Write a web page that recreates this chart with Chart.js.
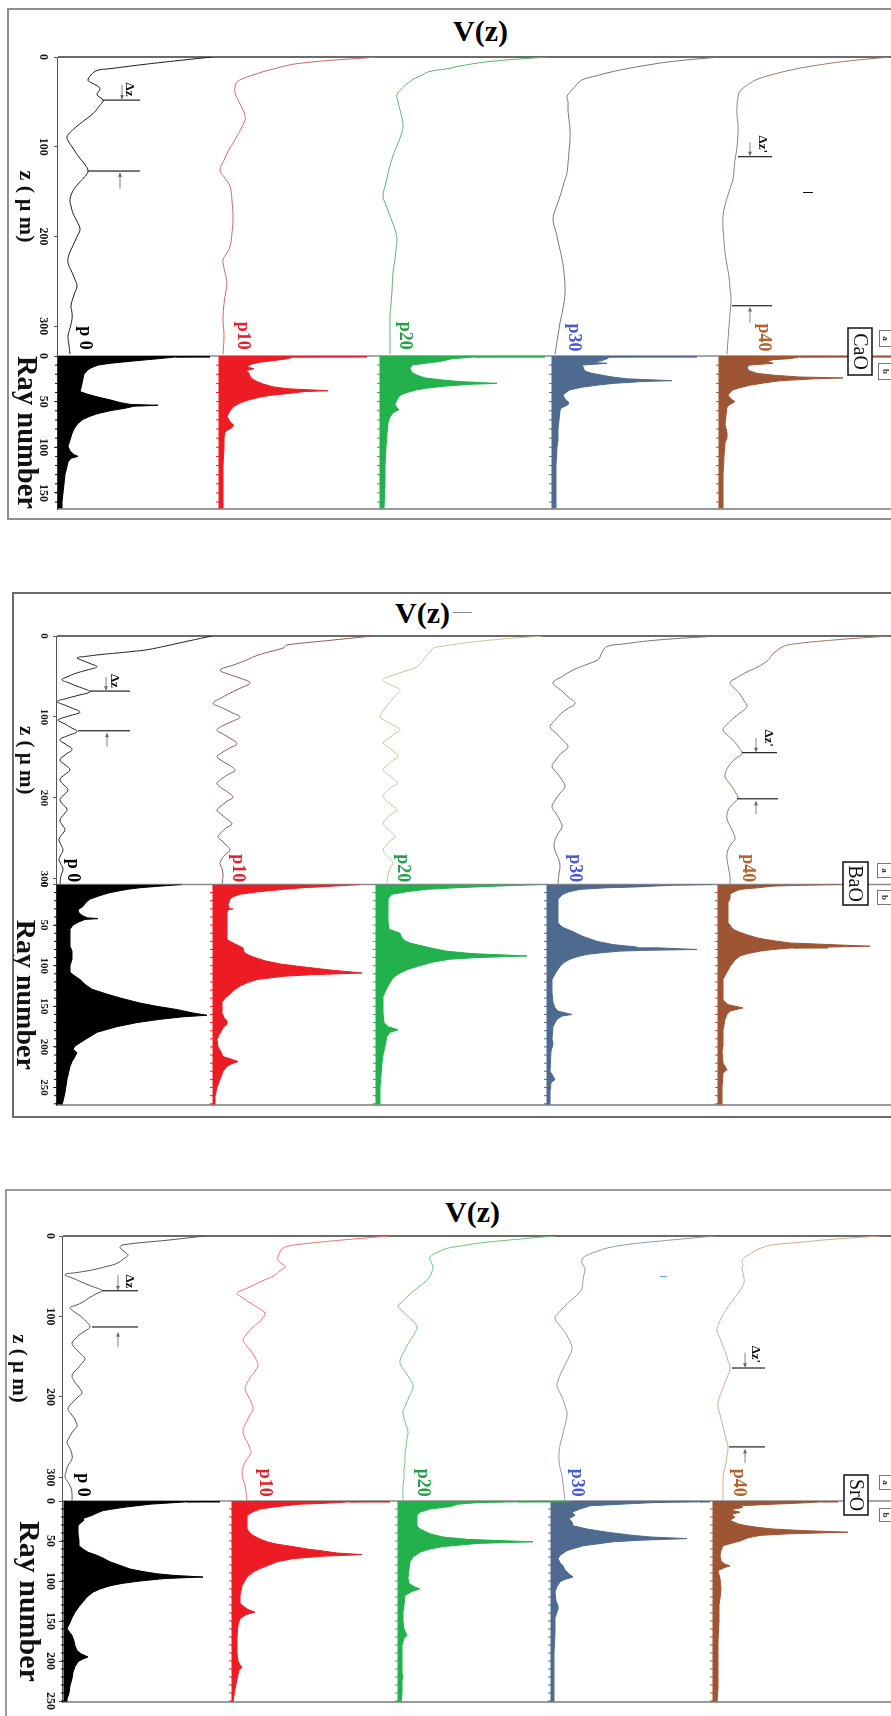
<!DOCTYPE html>
<html><head><meta charset="utf-8">
<script src="https://cdn.jsdelivr.net/npm/chart.js@4.4.1/dist/chart.umd.min.js"></script>
<style>
html,body{margin:0;padding:0;background:#fff;}
body{width:891px;height:1716px;position:relative;overflow:hidden;}
.frame{position:absolute;box-sizing:border-box;}
.vtitle{position:absolute;font:bold 30px "Liberation Serif",serif;color:#000;line-height:34px;white-space:nowrap;}
canvas.rot{position:absolute;transform-origin:0 0;}
.dash{position:absolute;height:1px;}
</style></head><body>
<div class="frame" style="left:7px;top:8px;width:900px;height:512px;border:2px solid #8f8f8f;border-right:none;"></div>
<div class="frame" style="left:12px;top:592px;width:900px;height:526px;border:2px solid #6a6a6a;border-right:none;"></div>
<div class="frame" style="left:5px;top:1189px;width:900px;height:560px;border:2px solid #9a9a9a;border-right:none;"></div>
<div class="vtitle" id="t0"></div><div class="vtitle" id="t1"></div><div class="vtitle" id="t2"></div>
<div class="dash" style="left:803px;top:192px;width:10px;background:#111;"></div>
<div class="dash" style="left:453px;top:612px;width:19px;background:#888;"></div>
<div class="dash" style="left:660px;top:1276px;width:7px;background:#5aa8e8;"></div>
<script>
// ---------- categories & tick labels ----------
const MATERIALS = ['CaO', 'BaO', 'SrO'];
const SERIES = ['p 0', 'p10', 'p20', 'p30', 'p40'];
const TITLE_TEXT = 'V(z)';
const Z_AXIS_TITLE = 'z ( µ m)';
const RAY_AXIS_TITLE = 'Ray number';
const CaO_zTicks = [0, 100, 200, 300];
const CaO_rayTicks = [0, 50, 100, 150];
const BaO_zTicks = [0, 100, 200, 300];
const BaO_rayTicks = [0, 50, 100, 150, 200, 250];
const SrO_zTicks = [0, 100, 200, 300];
const SrO_rayTicks = [0, 50, 100, 150, 200, 250];

// ---------- V(z) curves: [z (µm), V amplitude] ----------
const CaO_V_p0 = [[0,154],[4,120],[8,88],[13,52],[15,39],[20,33],[26,30],[29,34],[35,42],[42,39],[48,45],[55,41],[63,35],[70,27],[77,19],[83,13],[89,9],[95,11],[100,14],[110,20],[120,27],[127,30],[133,27],[139,22],[149,15],[159,12],[166,13],[174,15],[183,19],[192,22],[200,19],[210,15],[220,11],[229,10],[240,14],[248,17],[255,19],[265,16],[277,13],[285,14],[292,14],[302,12],[311,10],[321,11],[331,12]];
const CaO_V_p10 = [[0,159],[7,81],[14,52],[20,34],[24,24],[28,18],[34,16],[40,16],[50,20],[59,24],[65,26],[70,26],[80,22],[90,17],[96,14],[105,9],[115,5],[126,1],[135,6],[144,11],[160,13],[181,14],[196,13],[211,11],[218,8],[226,4],[235,5],[245,7],[252,8],[260,7],[275,5],[292,4],[310,5],[331,4]];
const CaO_V_p20 = [[0,167],[5,110],[10,80],[13,68],[16,50],[20,42],[25,33],[30,27],[36,21],[42,17],[50,18],[59,20],[68,22],[77,23],[87,21],[96,18],[110,13],[125,9],[140,6],[155,3],[165,6],[180,11],[192,15],[203,17],[214,16],[225,15],[240,13],[260,12],[275,11],[288,10],[310,10],[331,10]];
const CaO_V_p30 = [[0,168],[5,120],[10,90],[13,75],[17,58],[21,44],[25,31],[29,26],[33,23],[38,19],[44,15],[50,16],[59,16],[70,17],[80,18],[92,18],[105,17],[118,16],[129,15],[140,12],[155,8],[168,4],[181,1],[195,4],[210,7],[225,10],[240,12],[262,13],[280,11],[296,8],[310,6],[331,3]];
const CaO_V_p40 = [[0,171],[5,125],[11,88],[15,70],[20,52],[25,38],[30,30],[38,21],[45,19],[55,18],[65,18],[75,19],[85,19],[100,18],[115,16],[126,15],[136,14],[150,10],[165,6],[177,4],[190,4],[205,5],[218,6],[232,8],[245,10],[258,11],[270,12],[285,11],[300,10],[315,9],[331,8]];

const BaO_V_p0 = [[0,155],[6,132],[12,110],[17,90],[19,76],[21,60],[23,43],[25,30],[27,20],[30,25],[34,33],[38,40],[42,30],[46,19],[50,11],[54,5],[58,12],[62,20],[66,29],[69,33],[73,22],[77,10],[81,0],[85,7],[89,15],[94,23],[98,14],[101,6],[104,1],[108,7],[113,14],[118,20],[123,11],[128,3],[134,9],[140,15],[146,9],[153,3],[159,8],[165,13],[171,8],[177,3],[184,7],[190,11],[196,7],[202,3],[208,6],[214,10],[220,7],[227,3],[233,5],[239,8],[245,5],[251,2],[258,4],[264,6],[270,4],[276,2],[282,4],[288,6],[296,4],[306,3]];
const BaO_V_p10 = [[0,160],[5,120],[11,74],[13,72],[15,70],[20,55],[25,42],[30,33],[36,20],[42,7],[47,15],[52,27],[58,37],[64,28],[70,18],[76,9],[83,0],[88,8],[94,18],[100,27],[105,20],[110,11],[116,4],[121,10],[127,18],[133,24],[138,17],[144,9],[149,4],[155,10],[160,17],[166,22],[171,15],[177,8],[182,4],[188,9],[193,15],[199,20],[204,14],[210,8],[215,4],[221,9],[226,14],[232,19],[237,13],[243,8],[248,5],[253,9],[258,13],[264,17],[270,12],[275,9],[281,7],[287,9],[295,10],[306,9]];
const BaO_V_p20 = [[0,167],[5,115],[10,80],[13,64],[15,57],[20,54],[25,50],[30,47],[38,41],[43,30],[48,18],[54,7],[60,14],[67,24],[73,20],[80,15],[88,10],[100,4],[105,10],[110,17],[116,24],[121,18],[127,12],[132,7],[138,13],[143,18],[149,22],[154,16],[160,11],[165,7],[171,12],[176,17],[182,21],[187,15],[193,10],[198,7],[204,11],[209,16],[215,21],[220,15],[226,10],[231,7],[237,11],[242,15],[248,19],[253,14],[259,10],[264,7],[270,10],[275,14],[280,17],[287,14],[295,12],[306,11]];
const BaO_V_p30 = [[0,171],[5,110],[10,75],[13,60],[20,55],[26,53],[30,50],[36,38],[42,26],[50,15],[58,6],[66,13],[75,21],[83,28],[90,20],[97,13],[104,8],[112,3],[120,9],[129,16],[137,21],[145,14],[153,9],[161,5],[169,10],[178,15],[186,18],[194,13],[203,8],[211,5],[219,9],[228,13],[236,15],[244,11],[252,8],[260,7],[268,9],[277,12],[285,13],[293,12],[306,11]];
const BaO_V_p40 = [[0,172],[5,115],[10,75],[13,65],[20,57],[25,53],[30,50],[38,40],[45,28],[52,18],[58,12],[65,17],[72,22],[80,26],[87,29],[95,22],[102,15],[109,9],[116,5],[123,10],[130,16],[138,21],[145,24],[152,17],[160,11],[167,8],[174,7],[181,11],[188,15],[194,18],[200,20],[207,15],[213,11],[220,9],[226,9],[232,11],[239,14],[245,16],[251,17],[257,13],[264,10],[270,9],[276,9],[283,10],[290,11],[297,12],[306,12]];

const SrO_V_p0 = [[0,141],[5,105],[11,59],[14,56],[17,58],[21,62],[24,64],[28,60],[34,53],[38,42],[42,29],[45,15],[48,1],[53,10],[58,19],[63,29],[68,38],[72,32],[77,25],[82,19],[86,12],[89,6],[94,10],[99,16],[106,22],[113,26],[118,21],[123,15],[128,11],[133,8],[138,10],[143,14],[148,18],[153,21],[158,18],[164,14],[169,10],[174,8],[180,10],[185,13],[190,16],[195,18],[200,14],[205,10],[210,6],[215,4],[221,7],[226,10],[231,12],[236,13],[241,10],[246,7],[251,5],[256,3],[262,5],[267,7],[272,8],[277,8],[283,5],[288,3],[293,2],[299,1],[306,4],[313,7],[320,8],[329,8]];
const SrO_V_p10 = [[0,158],[5,110],[10,70],[13,55],[17,49],[20,48],[25,46],[30,46],[34,49],[38,53],[44,47],[50,41],[56,30],[62,20],[67,11],[71,5],[77,11],[83,18],[90,27],[96,33],[103,30],[110,24],[117,18],[123,14],[129,11],[137,15],[145,20],[153,24],[161,26],[168,23],[176,18],[183,15],[190,13],[198,16],[206,19],[215,21],[222,18],[230,15],[237,12],[244,11],[251,13],[258,16],[264,18],[269,19],[275,16],[281,13],[287,11],[293,10],[302,11],[310,13],[318,14],[329,15]];
const SrO_V_p20 = [[0,157],[4,120],[9,80],[13,60],[15,50],[20,40],[26,32],[32,33],[38,35],[44,34],[50,32],[57,27],[64,20],[71,13],[78,7],[83,3],[87,0],[94,5],[100,10],[106,15],[113,19],[120,17],[128,13],[136,9],[144,6],[151,3],[158,2],[165,5],[172,9],[178,12],[185,15],[192,14],[200,11],[209,8],[218,5],[226,6],[235,8],[243,10],[252,9],[262,8],[271,7],[280,7],[290,6],[300,6],[310,5],[329,5]];
const SrO_V_p30 = [[0,164],[5,120],[10,80],[15,56],[20,44],[24,36],[27,32],[30,31],[34,31],[38,33],[42,34],[48,33],[55,32],[65,31],[72,27],[80,20],[88,13],[95,8],[102,4],[110,8],[118,13],[126,17],[134,20],[141,21],[150,18],[160,14],[170,10],[180,7],[187,6],[195,9],[203,12],[211,14],[220,16],[230,15],[240,13],[250,11],[260,9],[270,8],[278,8],[288,9],[298,11],[308,12],[318,13],[329,14]];
const SrO_V_p40 = [[0,167],[4,120],[8,85],[11,60],[15,48],[20,40],[24,35],[27,31],[32,29],[36,30],[40,29],[46,30],[52,31],[58,31],[68,27],[78,21],[88,15],[98,10],[108,6],[117,4],[127,7],[137,10],[146,13],[155,15],[164,17],[173,15],[182,12],[192,9],[202,6],[212,5],[222,7],[232,9],[242,11],[252,13],[262,15],[272,14],[282,13],[292,11],[303,10],[315,10],[329,10]];

// ---------- ray histograms: [ray number, amplitude] ----------
const CaO_H_p0 = [[0,152],[1,118],[3,100],[5,80],[8,52],[10,40],[13,33],[16,29],[20,26],[25,25],[30,24],[35,23],[39,22],[42,30],[45,40],[48,52],[51,62],[53,72],[54,100],[55,76],[57,68],[60,52],[63,40],[66,32],[70,24],[75,19],[80,16],[85,14],[92,12],[99,10],[104,12],[108,16],[110,20],[112,13],[116,10],[121,9],[130,7],[140,6],[150,5],[160,4],[167,4]];
const CaO_H_p10 = [[0,148],[1,75],[3,68],[5,55],[7,40],[9,32],[12,28],[14,35],[16,27],[19,30],[22,31],[25,33],[28,38],[31,45],[34,55],[36,70],[38,109],[39,85],[41,70],[43,52],[45,41],[48,30],[51,22],[55,15],[60,11],[66,8],[72,11],[76,15],[79,12],[83,6],[90,5],[100,5],[120,4],[140,4],[167,4]];
const CaO_H_p20 = [[0,165],[1,95],[3,72],[6,60],[8,45],[10,32],[14,30],[18,32],[21,37],[24,45],[26,60],[28,80],[30,117],[31,90],[33,65],[35,48],[37,37],[40,27],[43,20],[48,17],[53,15],[57,17],[59,19],[62,13],[67,10],[73,8],[85,7],[100,6],[120,5],[140,5],[167,4]];
const CaO_H_p30 = [[0,145],[1,58],[3,55],[5,50],[7,40],[8,55],[10,30],[12,31],[15,32],[17,34],[19,40],[21,50],[23,60],[25,75],[27,120],[28,90],[30,61],[32,45],[34,31],[37,18],[40,14],[43,11],[47,13],[50,16],[52,17],[54,15],[57,9],[60,8],[70,7],[80,6],[92,6],[100,5],[120,4],[140,4],[167,4]];
const CaO_H_p40 = [[0,172],[1,81],[3,70],[4,54],[6,48],[8,54],[10,30],[13,28],[16,30],[19,38],[21,54],[23,80],[24,124],[25,95],[27,62],[29,48],[32,31],[35,20],[37,14],[40,11],[43,9],[47,12],[50,16],[53,11],[56,8],[65,7],[75,6],[84,8],[90,8],[95,6],[110,5],[130,4],[167,4]];

const BaO_H_p0 = [[0,125],[2,103],[4,83],[6,70],[10,53],[14,42],[18,33],[22,29],[27,26],[31,21],[35,22],[38,25],[41,30],[42,41],[43,28],[46,22],[50,16],[55,13],[65,13],[76,13],[82,15],[92,15],[100,13],[108,13],[112,17],[117,23],[123,28],[129,35],[135,50],[140,64],[146,83],[150,100],[154,120],[158,135],[161,150],[163,125],[166,103],[170,80],[175,60],[182,40],[191,28],[199,18],[203,16],[207,20],[212,18],[218,15],[224,13],[240,10],[256,8],[267,6],[271,5]];
const BaO_H_p10 = [[0,147],[2,120],[4,90],[6,70],[9,45],[12,27],[15,20],[18,17],[25,15],[29,16],[30,20],[31,15],[35,14],[45,14],[55,14],[68,14],[72,20],[78,30],[83,31],[86,34],[90,42],[94,52],[98,68],[101,87],[105,115],[109,149],[111,100],[113,70],[117,44],[121,34],[125,27],[130,21],[135,17],[140,12],[145,9],[158,9],[164,11],[168,14],[172,14],[176,10],[179,9],[185,6],[191,4],[200,5],[206,8],[212,10],[215,18],[218,25],[221,18],[224,14],[230,10],[240,7],[250,4],[261,2],[271,2]];
const BaO_H_p20 = [[0,164],[2,120],[4,80],[6,50],[9,30],[12,16],[16,13],[20,12],[30,12],[45,12],[55,13],[60,24],[66,26],[70,30],[72,34],[75,44],[78,54],[82,70],[85,95],[88,151],[90,100],[92,74],[96,55],[101,41],[105,31],[109,24],[113,19],[117,16],[125,12],[138,7],[150,7],[158,7],[170,8],[175,12],[179,22],[182,14],[187,11],[199,9],[210,7],[219,6],[235,5],[250,4],[271,4]];
const BaO_H_p30 = [[0,166],[1,123],[3,90],[4,60],[6,33],[9,22],[12,16],[18,11],[30,11],[40,11],[47,11],[50,13],[53,16],[58,26],[64,36],[70,50],[74,66],[77,90],[78,110],[80,150],[81,100],[82,73],[84,55],[86,40],[89,30],[92,23],[96,17],[101,13],[108,9],[117,5],[133,5],[145,6],[152,8],[156,11],[158,18],[160,25],[162,15],[166,10],[175,6],[190,5],[197,6],[205,4],[230,3],[240,8],[244,4],[255,3],[271,3]];
const BaO_H_p40 = [[0,122],[1,80],[2,55],[4,40],[6,22],[9,16],[12,12],[18,12],[22,10],[35,10],[47,10],[55,15],[58,20],[62,29],[66,40],[68,49],[70,60],[72,72],[74,112],[76,152],[77,110],[78,75],[80,55],[82,42],[85,30],[88,22],[93,17],[101,12],[110,8],[117,5],[130,5],[142,5],[148,10],[152,25],[154,18],[156,12],[160,9],[166,7],[180,5],[199,5],[205,4],[220,5],[228,9],[232,5],[250,4],[271,4]];

const SrO_H_p0 = [[0,156],[1,123],[4,86],[8,59],[12,39],[15,33],[18,28],[22,19],[24,20],[26,18],[28,16],[31,14],[40,14],[50,15],[56,15],[60,19],[64,24],[68,33],[72,40],[76,46],[80,55],[85,66],[88,78],[91,93],[93,110],[95,139],[97,100],[100,76],[103,58],[106,46],[110,36],[114,29],[120,23],[126,19],[132,15],[139,11],[146,8],[152,6],[157,4],[160,3],[163,5],[168,8],[175,10],[181,11],[187,13],[191,17],[195,24],[198,18],[201,14],[207,11],[214,9],[222,8],[231,6],[240,5],[248,3],[251,3]];
const SrO_H_p10 = [[0,158],[1,118],[3,90],[4,68],[7,45],[10,28],[14,20],[18,15],[25,15],[35,15],[40,18],[43,21],[47,27],[51,35],[54,45],[57,61],[60,75],[62,88],[65,105],[67,130],[69,90],[72,61],[76,45],[81,35],[85,27],[89,21],[95,15],[106,10],[118,8],[128,8],[132,12],[135,15],[139,23],[142,14],[147,8],[155,6],[170,5],[190,5],[200,6],[205,8],[208,10],[211,7],[223,5],[235,3],[251,1]];
const SrO_H_p20 = [[0,172],[1,120],[2,80],[4,60],[7,52],[10,32],[14,22],[18,19],[25,19],[31,19],[35,22],[38,27],[41,32],[45,45],[48,70],[51,135],[53,80],[57,45],[60,32],[64,22],[70,15],[76,12],[85,11],[97,10],[103,11],[107,16],[110,22],[113,14],[118,7],[130,6],[139,5],[150,5],[160,6],[168,9],[172,6],[180,4],[200,4],[215,4],[220,5],[224,4],[240,4],[251,3]];
const SrO_H_p30 = [[0,159],[1,149],[2,102],[4,70],[6,39],[10,29],[14,21],[18,24],[22,18],[26,21],[31,22],[35,36],[39,56],[43,82],[45,100],[47,136],[49,90],[51,62],[56,32],[62,16],[68,9],[72,7],[77,9],[81,12],[86,14],[90,17],[95,22],[98,14],[101,9],[107,6],[114,4],[125,5],[131,7],[135,7],[139,6],[146,4],[165,4],[190,3],[220,3],[240,3],[251,3]];
const SrO_H_p40 = [[0,125],[1,110],[3,80],[4,60],[6,27],[8,30],[11,17],[14,27],[17,18],[20,22],[24,17],[26,20],[29,26],[31,34],[33,45],[35,60],[37,90],[39,135],[41,75],[43,47],[46,35],[50,27],[53,18],[56,10],[62,8],[68,7],[75,8],[79,12],[81,17],[83,12],[87,5],[97,7],[110,8],[122,7],[130,6],[150,6],[175,5],[200,5],[220,5],[235,5],[251,4]];

// ---------- layout / style (not data) ----------
const FONT = '"Liberation Serif", "Times New Roman", serif';
const HIST_COLORS = ['#000000', '#ed1c24', '#22b14c', '#4f6a8f', '#9e5533'];
const LABEL_COLORS = ['#000000', '#e3202a', '#25a047', '#4658dc', '#b3622c'];
const PANEL_LAYOUT = [
  { sx0: 8, sy0: 9, W: 510, H: 883, padL: 48, padR: 10, axisH: 50, yMax: 833, zMax: 333, rMax: 167.6, zW: 299, rW: 153,
    offsets: [0, 161, 322, 494, 661], tickPad: 4, tickSize: 12, zTitle: 22, zTitlePad: 4, rTitle: 30, rTitlePad: 0,
    lineColors: ['#1a1a1a', '#c9686c', '#5db36b', '#6f7682', '#9d7b6b'],
    labelPos: [[326, 27], [326, 185], [326, 347], [328, 516], [328, 706]],
    mLines: [[48, 45, 82], [127, 30, 82], [111, 680, 714], [277, 674, 714]],
    mArrows: [[64, 31, 47], [62, 147, 129], [692, 95, 110], [692, 296, 279]],
    mTexts: [['Δz', 44, 71], ["Δz'", 107, 704]],
    box: [848, 872, 328, 375], boxA: [879, 892, 330, 347], boxB: [878, 892, 363, 380],
    title: [453, 14] },
  { sx0: 13, sy0: 593, W: 524, H: 878, padL: 43, padR: 12, axisH: 44, yMax: 834, zMax: 306.8, rMax: 271.5, zW: 248.5, rW: 220.5,
    offsets: [0, 156, 319, 490, 661], tickPad: 3, tickSize: 11, zTitle: 21, zTitlePad: 0, rTitle: 28, rTitlePad: -6,
    lineColors: ['#262626', '#8e5a60', '#c9c59c', '#767676', '#9a7466'],
    labelPos: [[304, 16], [304, 181], [304, 346], [304, 518], [304, 691]],
    mLines: [[68, 33, 73], [117, 21, 73], [144, 685, 720], [201, 680, 721]],
    mArrows: [[49, 51, 67], [50, 137, 120], [699, 126, 143], [699, 220, 204]],
    mTexts: [['Δz', 64, 57], ["Δz'", 137, 711]],
    box: [843, 868, 862, 905], boxA: [877, 892, 863, 878], boxB: [877, 892, 890, 905],
    title: [395, 596] },
  { sx0: 6, sy0: 1190, W: 526, H: 885, padL: 46, padR: 14, axisH: 57, yMax: 828, zMax: 329.2, rMax: 251.25, zW: 265, rW: 201,
    offsets: [1, 169, 335, 488, 650], tickPad: 2, tickSize: 12, zTitle: 21, zTitlePad: 0, rTitle: 30, rTitlePad: 4,
    lineColors: ['#555555', '#f07070', '#6cc47a', '#8a98b8', '#d4a88c'],
    labelPos: [[324, 20], [324, 202], [324, 360], [324, 514], [324, 676]],
    mLines: [[68, 39, 75], [113, 29, 75], [164, 669, 702], [262, 666, 702]],
    mArrows: [[55, 48, 67], [55, 138, 120], [682, 145, 163], [682, 282, 265]],
    mTexts: [['Δz', 65, 66], ["Δz'", 158, 692]],
    box: [844, 868, 1475, 1515], boxA: [879, 892, 1475, 1490], boxB: [879, 892, 1508, 1522],
    title: [445, 1195] }
];

const V_SERIES = [
  [CaO_V_p0, CaO_V_p10, CaO_V_p20, CaO_V_p30, CaO_V_p40],
  [BaO_V_p0, BaO_V_p10, BaO_V_p20, BaO_V_p30, BaO_V_p40],
  [SrO_V_p0, SrO_V_p10, SrO_V_p20, SrO_V_p30, SrO_V_p40]
];
const H_SERIES = [
  [CaO_H_p0, CaO_H_p10, CaO_H_p20, CaO_H_p30, CaO_H_p40],
  [BaO_H_p0, BaO_H_p10, BaO_H_p20, BaO_H_p30, BaO_H_p40],
  [SrO_H_p0, SrO_H_p10, SrO_H_p20, SrO_H_p30, SrO_H_p40]
];
const Z_TICKS = [CaO_zTicks, BaO_zTicks, SrO_zTicks];
const RAY_TICKS = [CaO_rayTicks, BaO_rayTicks, SrO_rayTicks];

function buildPanel(p) {
  const L = PANEL_LAYOUT[p];
  const mat = MATERIALS[p];
  const t = document.getElementById('t' + p);
  t.textContent = TITLE_TEXT;
  t.style.left = L.title[0] + 'px'; t.style.top = L.title[1] + 'px';

  const cv = document.createElement('canvas');
  cv.className = 'rot';
  cv.width = L.W; cv.height = L.H;
  cv.style.width = L.W + 'px'; cv.style.height = L.H + 'px';
  cv.style.left = L.sx0 + 'px'; cv.style.top = L.sy0 + 'px';
  cv.style.transform = 'translateX(' + L.H + 'px) rotate(90deg)';
  document.body.appendChild(cv);

  const RIGHT = L.sx0 + L.H; // screen x of canvas y = 0
  const cX = sy => sy - L.sy0;     // screen y -> canvas x
  const cY = sx => RIGHT - sx;     // screen x -> canvas y

  const datasets = [];
  V_SERIES[p].forEach((pts, i) => datasets.push({
    type: 'line', label: mat + ' V(z) ' + SERIES[i], xAxisID: 'xz', yAxisID: 'y',
    data: pts.map(([z, v]) => ({ x: z, y: L.offsets[i] + v })),
    borderColor: L.lineColors[i], borderWidth: 1, pointRadius: 0, fill: false,
    tension: 0.4
  }));
  H_SERIES[p].forEach((pts, i) => datasets.push({
    type: 'line', label: mat + ' rays ' + SERIES[i], xAxisID: 'xr', yAxisID: 'y',
    data: pts.map(([r, a]) => ({ x: r, y: L.offsets[i] + a })),
    borderColor: HIST_COLORS[i], backgroundColor: HIST_COLORS[i], borderWidth: 1, pointRadius: 0,
    fill: { value: L.offsets[i] }, tension: 0
  }));

  const axis = (ticksArr, maxV, weight, title, tSize, tPad) => ({
    type: 'linear', position: 'bottom', stack: 'bottomStack', stackWeight: weight, min: 0, max: maxV,
    afterBuildTicks: s => { s.ticks = ticksArr.map(v => ({ value: v })); },
    afterFit: s => { s.height = L.axisH; },
    ticks: { autoSkip: false, maxRotation: 0, minRotation: 0, padding: L.tickPad, color: '#1a1a1a',
      font: { family: FONT, size: L.tickSize, weight: 'bold' }, callback: v => String(v) },
    grid: { display: true, drawOnChartArea: false, drawTicks: true, tickLength: 4, color: '#555' },
    border: { display: true, color: '#555', width: 1 },
    title: { display: true, text: title, color: '#111', font: { family: FONT, size: tSize, weight: 'bold' },
      padding: { top: 0, bottom: tPad } }
  });

  const extras = {
    id: 'extras' + p,
    beforeDatasetsDraw(chart) {
      const ctx = chart.ctx, a = chart.chartArea, xr = chart.scales.xr, y = chart.scales.y;
      ctx.save();
      const vline = (x, col, w) => { ctx.strokeStyle = col; ctx.lineWidth = w; ctx.beginPath(); ctx.moveTo(x, a.top); ctx.lineTo(x, a.bottom); ctx.stroke(); };
      vline(a.left, '#3a3a3a', 1.5);
      vline(xr.getPixelForValue(0), '#8a8a8a', 1.5);
      vline(a.right, '#7a7a7a', 1.5);
      // histogram baselines with small ticks
      L.offsets.forEach((off, i) => {
        const py = y.getPixelForValue(off);
        ctx.strokeStyle = HIST_COLORS[i]; ctx.lineWidth = 1.2;
        ctx.beginPath(); ctx.moveTo(xr.left, py); ctx.lineTo(xr.right, py); ctx.stroke();
        ctx.lineWidth = 1;
        for (let r = 10; r < L.rMax; r += 10) {
          const px = xr.getPixelForValue(r);
          ctx.beginPath(); ctx.moveTo(px, py); ctx.lineTo(px, py + 3); ctx.stroke();
        }
      });
      ctx.restore();
    },
    afterDatasetsDraw(chart) {
      const ctx = chart.ctx, xz = chart.scales.xz, y = chart.scales.y;
      ctx.save();
      // p-labels
      ctx.font = 'bold 18px ' + FONT; ctx.textAlign = 'right'; ctx.textBaseline = 'middle';
      L.labelPos.forEach(([zEnd, v], i) => {
        ctx.fillStyle = LABEL_COLORS[i];
        ctx.fillText(SERIES[i], xz.getPixelForValue(zEnd), y.getPixelForValue(v));
      });
      // Δz markers
      ctx.strokeStyle = '#222'; ctx.fillStyle = '#222'; ctx.lineWidth = 1.2;
      L.mLines.forEach(([z, v1, v2]) => {
        const px = xz.getPixelForValue(z);
        ctx.beginPath(); ctx.moveTo(px, y.getPixelForValue(v1)); ctx.lineTo(px, y.getPixelForValue(v2)); ctx.stroke();
      });
      ctx.lineWidth = 0.8; ctx.strokeStyle = '#666'; ctx.fillStyle = '#666';
      L.mArrows.forEach(([v, z1, z2]) => {
        const py = y.getPixelForValue(v), p1 = xz.getPixelForValue(z1), p2 = xz.getPixelForValue(z2);
        const dir = Math.sign(p2 - p1);
        ctx.beginPath(); ctx.moveTo(p1, py); ctx.lineTo(p2, py); ctx.stroke();
        ctx.beginPath(); ctx.moveTo(p2, py); ctx.lineTo(p2 - dir * 4, py - 2); ctx.lineTo(p2 - dir * 4, py + 2); ctx.closePath(); ctx.fill();
      });
      ctx.fillStyle = '#111'; ctx.font = 'bold 13px ' + FONT; ctx.textAlign = 'right'; ctx.textBaseline = 'middle';
      L.mTexts.forEach(([txt, zEnd, v]) => ctx.fillText(txt, xz.getPixelForValue(zEnd), y.getPixelForValue(v)));
      // material box
      const [bx1, bx2, by1, by2] = L.box;
      ctx.fillStyle = '#fff'; ctx.fillRect(cX(by1), cY(bx2), by2 - by1, bx2 - bx1);
      ctx.strokeStyle = '#111'; ctx.lineWidth = 1.5; ctx.strokeRect(cX(by1), cY(bx2), by2 - by1, bx2 - bx1);
      ctx.fillStyle = '#111'; ctx.font = '20px ' + FONT; ctx.textAlign = 'center'; ctx.textBaseline = 'middle';
      ctx.fillText(mat, cX((by1 + by2) / 2), cY((bx1 + bx2) / 2) + 1);
      // small a / b boxes
      [[L.boxA, 'a'], [L.boxB, 'b']].forEach(([b, s]) => {
        ctx.fillStyle = '#fff'; ctx.fillRect(cX(b[2]), cY(b[1]), b[3] - b[2], b[1] - b[0]);
        ctx.strokeStyle = '#777'; ctx.lineWidth = 1; ctx.strokeRect(cX(b[2]) + 0.5, cY(b[1]) + 0.5, b[3] - b[2] - 1, b[1] - b[0] - 1);
        ctx.fillStyle = '#333'; ctx.font = 'bold 9px ' + FONT;
        ctx.fillText(s, cX((b[2] + b[3]) / 2), cY((b[0] + b[1]) / 2));
      });
      ctx.restore();
    }
  };

  return new Chart(cv.getContext('2d'), {
    type: 'line',
    data: { datasets },
    options: {
      responsive: false, animation: false, devicePixelRatio: 1,
      layout: { padding: { left: L.padL, right: L.padR, top: 0, bottom: 0 } },
      plugins: { legend: { display: false }, tooltip: { enabled: false }, title: { display: false } },
      scales: {
        xz: axis(Z_TICKS[p], L.zMax, L.zW, Z_AXIS_TITLE, L.zTitle, L.zTitlePad),
        xr: axis(RAY_TICKS[p], L.rMax, L.rW, RAY_AXIS_TITLE, L.rTitle, L.rTitlePad),
        y: { type: 'linear', display: false, min: 0, max: L.yMax }
      }
    },
    plugins: [extras]
  });
}
Chart.defaults.font.family = FONT;
[0, 1, 2].forEach(buildPanel);
</script>
</body></html>
